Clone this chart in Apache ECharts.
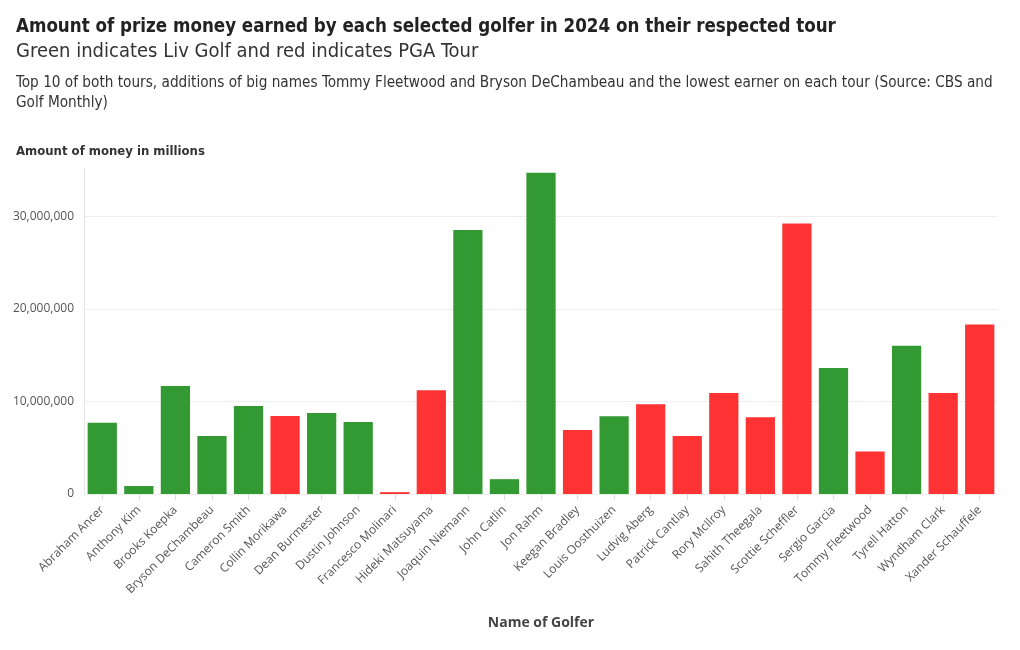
<!DOCTYPE html>
<html><head><meta charset="utf-8">
<script src="https://cdn.jsdelivr.net/npm/echarts@6/dist/echarts.min.js"></script>
<style>html,body{margin:0;padding:0;background:#fff}#c{width:1020px;height:650px}</style>
</head><body><div id="c"></div>
<script>
const golfers = ["Abraham Ancer","Anthony Kim","Brooks Koepka","Bryson DeChambeau","Cameron Smith","Collin Morikawa","Dean Burmester","Dustin Johnson","Francesco Molinari","Hideki Matsuyama","Joaquin Niemann","John Catlin","Jon Rahm","Keegan Bradley","Louis Oosthuizen","Ludvig Aberg","Patrick Cantlay","Rory McIlroy","Sahith Theegala","Scottie Scheffler","Sergio Garcia","Tommy Fleetwood","Tyrell Hatton","Wyndham Clark","Xander Schauffele"];
const prizeMoney = [7700000,860000,11650000,6260000,9490000,8410000,8740000,7770000,200000,11200000,28500000,1600000,34700000,6900000,8400000,9700000,6260000,10900000,8300000,29200000,13600000,4600000,16000000,10900000,18300000];
const tour = ["LIV","LIV","LIV","LIV","LIV","PGA","LIV","LIV","PGA","PGA","LIV","LIV","LIV","PGA","LIV","PGA","PGA","PGA","PGA","PGA","LIV","PGA","LIV","PGA","PGA"];
const yTicks = [0,10000000,20000000,30000000];
const tourColors = {LIV:"#339933", PGA:"#ff3333"};

const NARROW = "'DejaVu Sans Condensed',sans-serif";
const chart = echarts.init(document.getElementById('c'), null, {renderer:'canvas'});
chart.setOption({
  animation:false,
  backgroundColor:'#fff',
  title:[
    {text:"Amount of prize money earned by each selected golfer in 2024 on their respected tour", left:11, top:13,
     textStyle:{fontFamily:NARROW, fontSize:18.6, fontWeight:'bold', color:'#222'}},
    {text:"Green indicates Liv Golf and red indicates PGA Tour", left:11, top:37,
     textStyle:{fontFamily:NARROW, fontSize:20, fontWeight:'normal', color:'#333'}},
    {text:"Top 10 of both tours, additions of big names Tommy Fleetwood and Bryson DeChambeau and the lowest earner on each tour (Source: CBS and\nGolf Monthly)", left:11, top:68,
     textStyle:{fontFamily:NARROW, fontSize:15.2, fontWeight:'normal', color:'#333', lineHeight:20}},
    {text:"Amount of money in millions", left:11, top:140,
     textStyle:{fontFamily:NARROW, fontSize:13, fontWeight:'bold', color:'#333'}}
  ],
  grid:{left:84, right:22, top:168, bottom:156},
  xAxis:{
    type:'category', data:golfers,
    name:"Name of Golfer", nameLocation:'middle', nameGap:122,
    nameTextStyle:{fontFamily:"'Open Sans',sans-serif", fontSize:14, fontWeight:'bold', color:'#444'},
    axisLine:{show:false},
    axisTick:{show:true, alignWithLabel:true, length:6, lineStyle:{color:'#ddd'}},
    axisLabel:{rotate:45, interval:0, margin:14, fontFamily:"'Open Sans',sans-serif", fontSize:12, color:'#555'}
  },
  yAxis:{
    type:'value', min:0, max:35200000, interval:10000000,
    axisLine:{show:true, lineStyle:{color:'#e6e6e6'}},
    axisTick:{show:false},
    axisLabel:{showMaxLabel:false, margin:10, fontFamily:"'Open Sans',sans-serif", fontSize:12, color:'#555',
      formatter:v=>v.toLocaleString('en-US')},
    splitLine:{show:true, lineStyle:{color:['#eeeeee','#eeeeee','#eeeeee','#eeeeee','rgba(0,0,0,0)']}}
  },
  series:[{
    type:'bar', barCategoryGap:'20%',
    data:prizeMoney.map((v,i)=>({value:v, itemStyle:{color:tourColors[tour[i]]}}))
  }]
});
</script></body></html>
